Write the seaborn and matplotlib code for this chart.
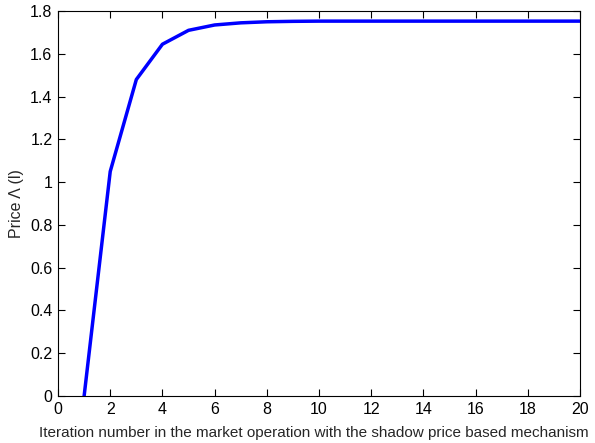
import numpy as np
import pandas as pd
import seaborn as sns
import matplotlib
matplotlib.use("Agg")
from matplotlib import pyplot as plt

iterations = list(range(1, 21))
price = [0.0, 1.05, 1.48, 1.645, 1.71, 1.735, 1.745, 1.75, 1.752, 1.753,
         1.753, 1.753, 1.753, 1.753, 1.753, 1.753, 1.753, 1.753, 1.753, 1.753]

df = pd.DataFrame({"iteration": iterations, "price": price})

sns.set_style("ticks")
plt.rcParams['font.family'] = ['Liberation Sans', 'DejaVu Sans']
plt.rcParams['font.size'] = 11

fig = plt.figure(figsize=(5.95, 4.43), dpi=100)
ax = fig.add_axes([0.0975, 0.106, 0.8775, 0.869])
sns.lineplot(data=df, x="iteration", y="price", ax=ax, color="#0000ff", linewidth=2.5)

ax.set_xlim(0, 20)
ax.set_ylim(0, 1.8)
ax.set_xticks(np.arange(0, 21, 2))
ax.set_yticks(np.arange(0, 1.81, 0.2))
ax.set_yticklabels(["0", "0.2", "0.4", "0.6", "0.8", "1", "1.2", "1.4", "1.6", "1.8"])
ax.tick_params(direction='in', top=True, right=True, length=5, width=0.8, labelsize=11.5, colors='black', pad=4)
for s in ax.spines.values():
    s.set_visible(True)
    s.set_color('black')
    s.set_linewidth(0.8)
ax.set_xlabel("Iteration number in the market operation with the shadow price based mechanism", fontsize=11)
ax.xaxis.set_label_coords(0.49, -0.078)
ax.xaxis.label.set_va('top')
ax.set_ylabel("Price Λ (l)", fontsize=11.5)
ax.yaxis.set_label_coords(-0.066, 0.5)

fig.savefig("out.png", dpi=100)
